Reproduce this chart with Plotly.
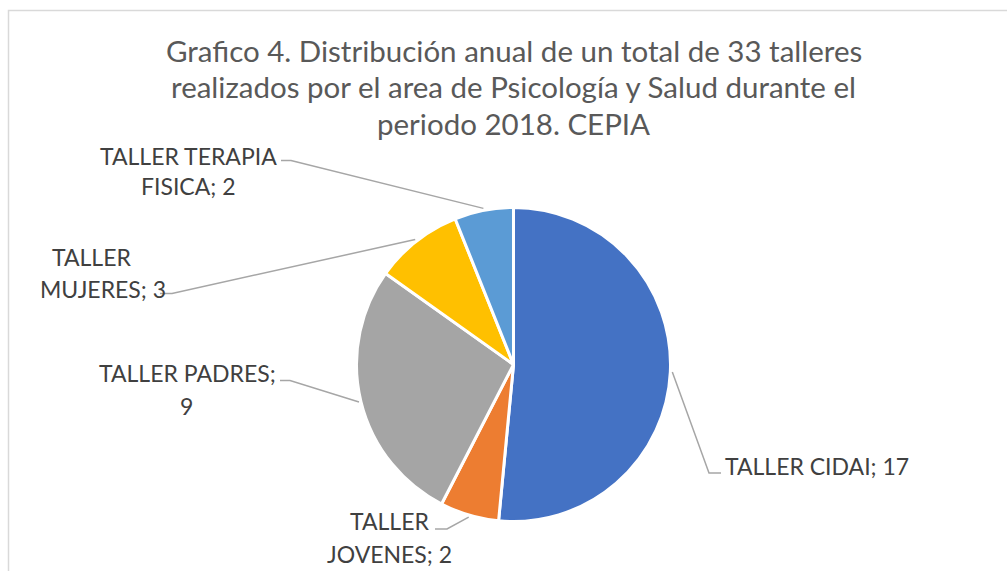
import math
import plotly.graph_objects as go

# ---- data ----
categories = ["TALLER CIDAI", "TALLER JOVENES", "TALLER PADRES", "TALLER MUJERES", "TALLER TERAPIA FISICA"]
values = [17, 2, 9, 3, 2]
colors = ["#4472C4", "#ED7D31", "#A5A5A5", "#FFC000", "#5B9BD5"]
title_lines = [
    "Grafico 4. Distribución anual de un total de 33 talleres",
    "realizados por el area de Psicología y Salud durante el",
    "periodo 2018. CEPIA",
]

# ---- layout (pixels) ----
W, H = 1007, 571
CX, CY, R = 513.5, 364.5, 157.0

def px(x):
    return x / W

def py(y):
    return 1 - y / H

# label line layout: list of (text, x_center, y_center) per line; elbow + end of leader
label_layout = [
    {"lines": [("TALLER CIDAI; 17", 817, 466)], "elbow": (709, 473), "end": (721, 473)},
    {"lines": [("TALLER", 389.5, 521), ("JOVENES; 2", 389, 554)], "elbow": (447, 529), "end": (435, 529)},
    {"lines": [("TALLER PADRES;", 187, 373), ("9", 186.5, 406)], "elbow": (290, 380.5), "end": (280, 380.5)},
    {"lines": [("TALLER", 91.5, 256.5), ("MUJERES; 3", 102.5, 289)], "elbow": (172, 293.5), "end": (160, 293.5)},
    {"lines": [("TALLER TERAPIA", 188.5, 156), ("FISICA; 2", 188, 186)], "elbow": (291, 160.5), "end": (281, 160.5)},
]

fig = go.Figure()
fig.add_trace(go.Pie(
    labels=categories,
    values=values,
    sort=False,
    direction="clockwise",
    rotation=0,
    marker=dict(colors=colors, line=dict(color="white", width=3)),
    textinfo="none",
    hoverinfo="label+value",
    showlegend=False,
    domain=dict(x=[px(CX - R), px(CX + R)], y=[py(CY + R), py(CY - R)]),
))

annotations = []
shapes = []

# title
title_y = [50.5, 86.5, 123]
for t, yy in zip(title_lines, title_y):
    annotations.append(dict(
        text=t, x=px(CX), y=py(yy), xref="paper", yref="paper",
        showarrow=False, xanchor="center", yanchor="middle",
        font=dict(family="Lato", size=29.5, color="#595959"),
    ))

# data labels & leader lines computed from slice angles
total = sum(values)
cum = 0.0
for cat, v, lay in zip(categories, values, label_layout):
    mid = (cum + v / 2) / total * 2 * math.pi
    cum += v
    ax = CX + (R + 2) * math.sin(mid)
    ay = CY - (R + 2) * math.cos(mid)
    ex, ey = lay["elbow"]
    tx, ty = lay["end"]
    path = f"M {px(ax)},{py(ay)} L {px(ex)},{py(ey)} L {px(tx)},{py(ty)}"
    shapes.append(dict(type="path", path=path, xref="paper", yref="paper",
                       line=dict(color="#A6A6A6", width=1.5)))
    for text, lx, ly in lay["lines"]:
        annotations.append(dict(
            text=text, x=px(lx), y=py(ly), xref="paper", yref="paper",
            showarrow=False, xanchor="center", yanchor="middle",
            font=dict(family="Lato", size=23, color="#404040"),
        ))

# chart border
shapes.append(dict(type="rect", xref="paper", yref="paper",
                   x0=px(8.5), x1=1.05, y0=-0.05, y1=py(10.5),
                   line=dict(color="#D9D9D9", width=1.5), fillcolor="rgba(0,0,0,0)", layer="below"))

fig.update_layout(
    width=W, height=H,
    margin=dict(l=0, r=0, t=0, b=0),
    paper_bgcolor="white",
    plot_bgcolor="white",
    annotations=annotations,
    shapes=shapes,
)

fig.write_html("out.html", config={"displayModeBar": False},
               post_script="document.body.style.margin='0px';")
